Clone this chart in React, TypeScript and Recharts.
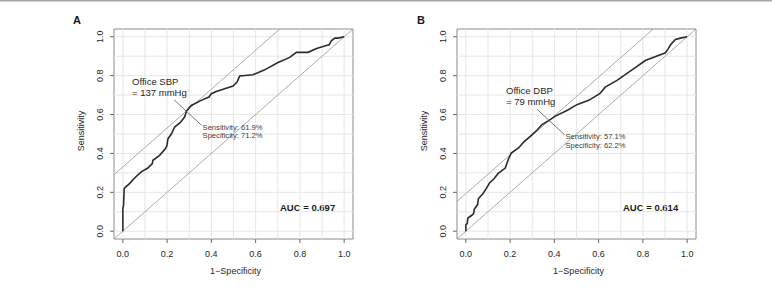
import React from "react";
import {
  LineChart,
  Line,
  XAxis,
  YAxis,
  ReferenceLine,
  ReferenceDot,
  ReferenceArea,
} from "recharts";

// ROC curve A (office SBP): 1-specificity and sensitivity
const fprA = [
  0, 0, 0.003, 0.006, 0.011, 0.03, 0.053, 0.083, 0.113, 0.133, 0.136, 0.166,
  0.193, 0.199, 0.204, 0.219, 0.234, 0.259, 0.279, 0.288, 0.309, 0.354, 0.389,
  0.4, 0.422, 0.46, 0.498, 0.516, 0.528, 0.588, 0.641, 0.701, 0.754, 0.784,
  0.837, 0.875, 0.92, 0.932, 0.943, 0.958, 0.973, 1,
];
const sensA = [
  0, 0.117, 0.13, 0.219, 0.226, 0.245, 0.274, 0.305, 0.325, 0.348, 0.365, 0.39,
  0.425, 0.44, 0.476, 0.5, 0.536, 0.558, 0.587, 0.619, 0.647, 0.673, 0.69,
  0.707, 0.719, 0.733, 0.747, 0.767, 0.798, 0.805, 0.83, 0.868, 0.894, 0.92,
  0.92, 0.94, 0.955, 0.959, 0.981, 0.993, 0.993, 1,
];

// ROC curve B (office DBP)
const fprB = [
  0, 0, 0.006, 0.009, 0.027, 0.035, 0.038, 0.053, 0.057, 0.077, 0.092, 0.107,
  0.128, 0.145, 0.178, 0.193, 0.205, 0.238, 0.261, 0.291, 0.321, 0.344, 0.378,
  0.404, 0.457, 0.502, 0.555, 0.605, 0.63, 0.683, 0.759, 0.811, 0.864, 0.902,
  0.914, 0.925, 0.947, 0.97, 1,
];
const sensB = [
  0, 0.034, 0.039, 0.068, 0.082, 0.091, 0.113, 0.137, 0.168, 0.193, 0.219,
  0.248, 0.271, 0.296, 0.325, 0.373, 0.402, 0.428, 0.459, 0.488, 0.519, 0.548,
  0.571, 0.592, 0.621, 0.651, 0.673, 0.707, 0.741, 0.776, 0.836, 0.878, 0.901,
  0.918, 0.938, 0.959, 0.986, 0.993, 1,
];

const axisTicks = [0, 0.2, 0.4, 0.6, 0.8, 1];
const gridValues = [0, 0.1, 0.2, 0.3, 0.4, 0.5, 0.6, 0.7, 0.8, 0.9, 1];

const FONT = '"Liberation Sans", Arial, Helvetica, sans-serif';
const DOMAIN: [number, number] = [-0.04, 1.04];

interface Cut {
  name: string;
  value: string;
  sens: number;
  spec: number;
  nameDx: number;
}

interface Panel {
  letter: string;
  fpr: number[];
  sens: number[];
  cut: Cut;
  auc: string;
  left: number;
}

const panels: Panel[] = [
  {
    letter: "A",
    fpr: fprA,
    sens: sensA,
    cut: { name: "Office SBP", value: "= 137 mmHg", sens: 0.619, spec: 0.712, nameDx: -54.5 },
    auc: "AUC = 0.697",
    left: 0,
  },
  {
    letter: "B",
    fpr: fprB,
    sens: sensB,
    cut: { name: "Office DBP", value: "= 79 mmHg", sens: 0.571, spec: 0.622, nameDx: -43.5 },
    auc: "AUC = 0.614",
    left: 343,
  },
];

function YTick(props: any) {
  const { x, y, payload } = props;
  return (
    <text
      x={x}
      y={y}
      transform={`rotate(-90 ${x} ${y})`}
      textAnchor="middle"
      fontSize={9}
      fontFamily={FONT}
      fill="#262626"
    >
      {payload.value.toFixed(1)}
    </text>
  );
}

function XTick(props: any) {
  const { x, y, payload } = props;
  return (
    <text x={x} y={y + 12.3} textAnchor="middle" fontSize={9} fontFamily={FONT} fill="#262626">
      {payload.value.toFixed(1)}
    </text>
  );
}

function cutLabel(cut: Cut) {
  return (props: any) => {
    const { x, y } = props.viewBox;
    return (
      <g fontFamily={FONT}>
        <line x1={x - 12.5} y1={y - 11} x2={x + 15} y2={y + 14.5} stroke="#555" strokeWidth={0.8} />
        <text x={x + cut.nameDx} y={y - 26} fontSize={9.5} fill="#262626">
          {cut.name}
        </text>
        <text x={x + cut.nameDx} y={y - 15} fontSize={9.5} fill="#262626">
          {cut.value}
        </text>
        <text x={x + 16} y={y + 19} fontSize={7.6} fill="#404040">
          {`Sensitivity: ${(cut.sens * 100).toFixed(1)}%`}
        </text>
        <text x={x + 16} y={y + 27.5} fontSize={7.6} fill="#404040">
          {`Specificity: ${(cut.spec * 100).toFixed(1)}%`}
        </text>
      </g>
    );
  };
}

function RocPanel({ panel }: { panel: Panel }) {
  const rows = panel.fpr.map((f, i) => ({ fpr: f, sens: panel.sens[i] }));
  const fprCut = 1 - panel.cut.spec;
  const offset = panel.cut.sens - fprCut;

  return (
    <div style={{ position: "absolute", left: panel.left, top: 0 }}>
      <LineChart width={386} height={291} margin={{ top: 29, right: 33, bottom: 22, left: 84 }}>
        <XAxis
          dataKey="fpr"
          type="number"
          domain={DOMAIN}
          ticks={axisTicks}
          allowDataOverflow
          axisLine={false}
          tickLine={{ stroke: "#666" }}
          tickSize={4}
          tickMargin={2}
          height={30}
          tick={<XTick />}
          label={(p: any) => (
            <text
              x={p.viewBox.x + p.viewBox.width / 2 + 2}
              y={p.viewBox.y + 34.5}
              textAnchor="middle"
              fontSize={9}
              fontFamily={FONT}
              fill="#262626"
            >
              1−Specificity
            </text>
          )}
        />
        <YAxis
          type="number"
          domain={DOMAIN}
          ticks={axisTicks}
          allowDataOverflow
          axisLine={false}
          tickLine={{ stroke: "#666" }}
          tickSize={4}
          tickMargin={7}
          width={30}
          tick={<YTick />}
          label={(p: any) => {
            const cx = p.viewBox.x;
            const cy = p.viewBox.y + p.viewBox.height / 2 - 3;
            return (
              <text
                x={cx}
                y={cy}
                transform={`rotate(-90 ${cx} ${cy})`}
                textAnchor="middle"
                fontSize={9}
                fontFamily={FONT}
                fill="#262626"
              >
                Sensitivity
              </text>
            );
          }}
        />
        {gridValues.map((v) => (
          <ReferenceLine key={`gx${v}`} x={v} stroke="#e6e6e6" strokeWidth={1} />
        ))}
        {gridValues.map((v) => (
          <ReferenceLine key={`gy${v}`} y={v} stroke="#e6e6e6" strokeWidth={1} />
        ))}
        <ReferenceLine
          segment={[{ x: -1, y: -1 }, { x: 2, y: 2 }]}
          ifOverflow="hidden"
          stroke="#a3a3a3"
          strokeWidth={0.9}
        />
        <ReferenceLine
          segment={[{ x: -1, y: -1 + offset }, { x: 2, y: 2 + offset }]}
          ifOverflow="hidden"
          stroke="#a3a3a3"
          strokeWidth={0.9}
        />
        <ReferenceArea
          x1={DOMAIN[0]}
          x2={DOMAIN[1]}
          y1={DOMAIN[0]}
          y2={DOMAIN[1]}
          ifOverflow="visible"
          fill="none"
          fillOpacity={0}
          stroke="#8a8a8a"
          strokeWidth={1}
          label={(p: any) => (
            <text
              x={p.viewBox.x + 166}
              y={p.viewBox.y + p.viewBox.height - 28}
              fontSize={9.5}
              fontWeight="bold"
              fontFamily={FONT}
              fill="#1a1a1a"
            >
              {panel.auc}
            </text>
          )}
        />
        <Line
          data={rows}
          dataKey="sens"
          type="linear"
          stroke="#2b2b2b"
          strokeWidth={1.6}
          dot={false}
          activeDot={false}
          isAnimationActive={false}
        />
        <ReferenceDot x={fprCut} y={panel.cut.sens} r={0} stroke="none" fill="none" label={cutLabel(panel.cut)} />
      </LineChart>
    </div>
  );
}

export default function App() {
  return (
    <div
      style={{
        position: "absolute",
        left: 0,
        top: 0,
        width: 772,
        height: 291,
        background: "#fff",
        overflow: "hidden",
      }}
    >
      {panels.map((p) => (
        <RocPanel key={p.letter} panel={p} />
      ))}
      <svg width={772} height={291} style={{ position: "absolute", left: 0, top: 0, pointerEvents: "none" }}>
        <rect x={0} y={0} width={772} height={1.5} fill="#a6a6a6" />
        <text x={73} y={23.5} fontSize={11} fontWeight="bold" fontFamily={FONT} fill="#1a1a1a">
          A
        </text>
        <text x={417} y={23.5} fontSize={11} fontWeight="bold" fontFamily={FONT} fill="#1a1a1a">
          B
        </text>
      </svg>
    </div>
  );
}
